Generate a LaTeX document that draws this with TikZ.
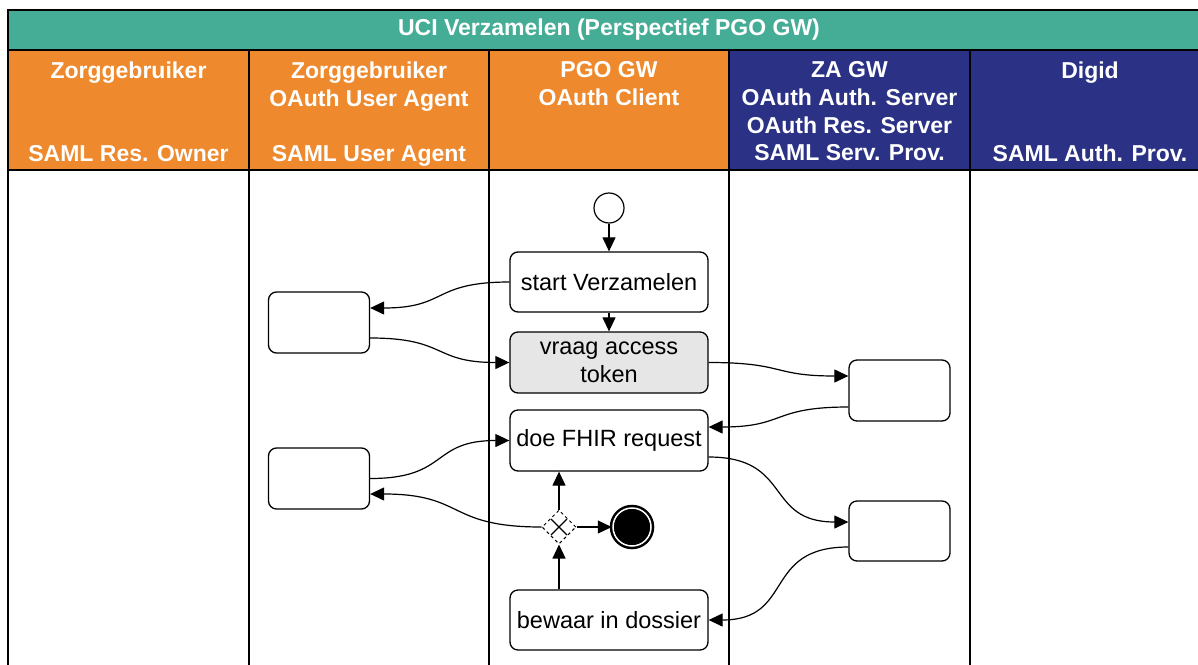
\documentclass[tikz,border=0pt]{standalone}
\usepackage{fontspec}
\setmainfont{Liberation Sans}
\usetikzlibrary{arrows.meta,shapes.geometric}
\definecolor{laneteal}{HTML}{45AD96}
\definecolor{laneorange}{HTML}{EE892D}
\definecolor{lanenavy}{HTML}{2B3285}
\definecolor{taskgray}{HTML}{E6E6E6}
\tikzstyle{lane} = [draw=black,line width=1.2pt]
\tikzstyle{hdr} = [text=white,font=\fontsize{23}{27.7}\bfseries\selectfont,align=center,anchor=north,inner sep=0pt]
\tikzstyle{task} = [draw,fill=white,rounded corners=8pt,line width=1.3pt,minimum width=198pt,minimum height=60pt,inner sep=0pt,align=center,font=\fontsize{23.5}{28}\selectfont]
\tikzstyle{other} = [task,minimum width=101pt,minimum height=61pt]
\tikzstyle{flow} = [line width=1.2pt,-{Triangle[length=14pt,width=13pt]}]

\begin{document}
\begin{tikzpicture}[x=1pt,y=-1pt]
  \useasboundingbox (0,0) rectangle (1198,664);
  \clip (0,0) rectangle (1198,664);

  % lanes
  \draw[lane,fill=laneteal] (8,10) rectangle (1215,50);
  \draw[lane,fill=laneorange] (8,50) rectangle (249,170);
  \draw[lane,fill=laneorange] (249,50) rectangle (489,170);
  \draw[lane,fill=laneorange] (489,50) rectangle (729,170);
  \draw[lane,fill=lanenavy] (729,50) rectangle (970,170);
  \draw[lane,fill=lanenavy] (970,50) rectangle (1215,170);
  \foreach \x in {8,249,489,729,970}
    \draw[lane] (\x,170) -- (\x,680);

  \node[hdr,anchor=center] (title) at (609,30) {UCI Verzamelen (Perspectief PGO GW)};
  \node[hdr] (h1) at (128.5,61.5) {Zorggebruiker\\\mbox{}\\\mbox{}\\SAML Res. Owner};
  \node[hdr] (h2) at (369,61.5) {Zorggebruiker\\OAuth User Agent\\\mbox{}\\SAML User Agent};
  \node[hdr] (h3) at (609,61.5) {PGO GW\\OAuth Client};
  \node[hdr] (h4) at (849.5,61.5) {ZA GW\\OAuth Auth. Server\\OAuth Res. Server\\SAML Serv. Prov.};
  \node[hdr] (h5) at (1090,61.5) {Digid\\\mbox{}\\\mbox{}\\SAML Auth. Prov.};

  % PGO GW
  \node[circle,draw,fill=white,line width=1.2pt,minimum size=30pt,inner sep=0pt] (start) at (609,208) {};
  \node[task] (sv) at (609,282) {start Verzamelen};
  \node[task,fill=taskgray,minimum height=61pt] (vat) at (609,362.5) {vraag access\\token};
  \node[task,minimum height=61pt] (dfr) at (609,440.5) {doe FHIR request};
  \node[diamond,draw,dashed,dash pattern=on 3pt off 3pt,line width=1pt,minimum size=34pt,inner sep=0pt] (gw) at (559,527) {};
  \draw[line width=1.2pt] (gw.center) +(-8,-8) -- +(8,8) +(-8,8) -- +(8,-8);
  \node[circle,draw,fill=black,double=white,double distance=1.5pt,line width=2.5pt,minimum size=38pt,inner sep=0pt] (end) at (632,527) {};
  \node[task] (bid) at (609,620) {bewaar in dossier};

  % other lanes
  \node[other] (lb1) at (319,322.5) {};
  \node[other] (lb2) at (319,478.5) {};
  \node[other] (rb1) at (899.5,390.5) {};
  \node[other,minimum height=60pt] (rb2) at (899.5,531) {};

  % flows
  \draw[flow] (start) -- (sv);
  \draw[flow] (sv) -- (vat);
  \draw[flow] (sv.west) to[out=180,in=0,looseness=1.4] ([yshift=14.5pt]lb1.east);
  \draw[flow] ([yshift=-15.5pt]lb1.east) to[out=0,in=180,looseness=1.4] (vat.west);
  \draw[flow] (vat.east) to[out=0,in=180,looseness=1.4] ([yshift=14.5pt]rb1.west);
  \draw[flow] ([yshift=-16.5pt]rb1.west) to[out=180,in=0,looseness=1.4] ([yshift=13.5pt]dfr.east);
  \draw[flow] ([yshift=-16.5pt]dfr.east) to[out=0,in=180,looseness=1.4] ([yshift=9pt]rb2.west);
  \draw[flow] ([yshift=-16pt]rb2.west) to[out=180,in=0,looseness=1.4] (bid.east);
  \draw[flow] (lb2.east) to[out=0,in=180,looseness=1.4] (dfr.west);
  \draw[flow] (gw.west) to[out=180,in=0,looseness=1.4] ([yshift=-15.5pt]lb2.east);
  \draw[flow] (gw.north) -- (dfr.south -| gw.north);
  \draw[flow] (bid.north -| gw.south) -- (gw.south);
  \draw[flow] (gw.east) -- (end.west);
\end{tikzpicture}
\end{document}
